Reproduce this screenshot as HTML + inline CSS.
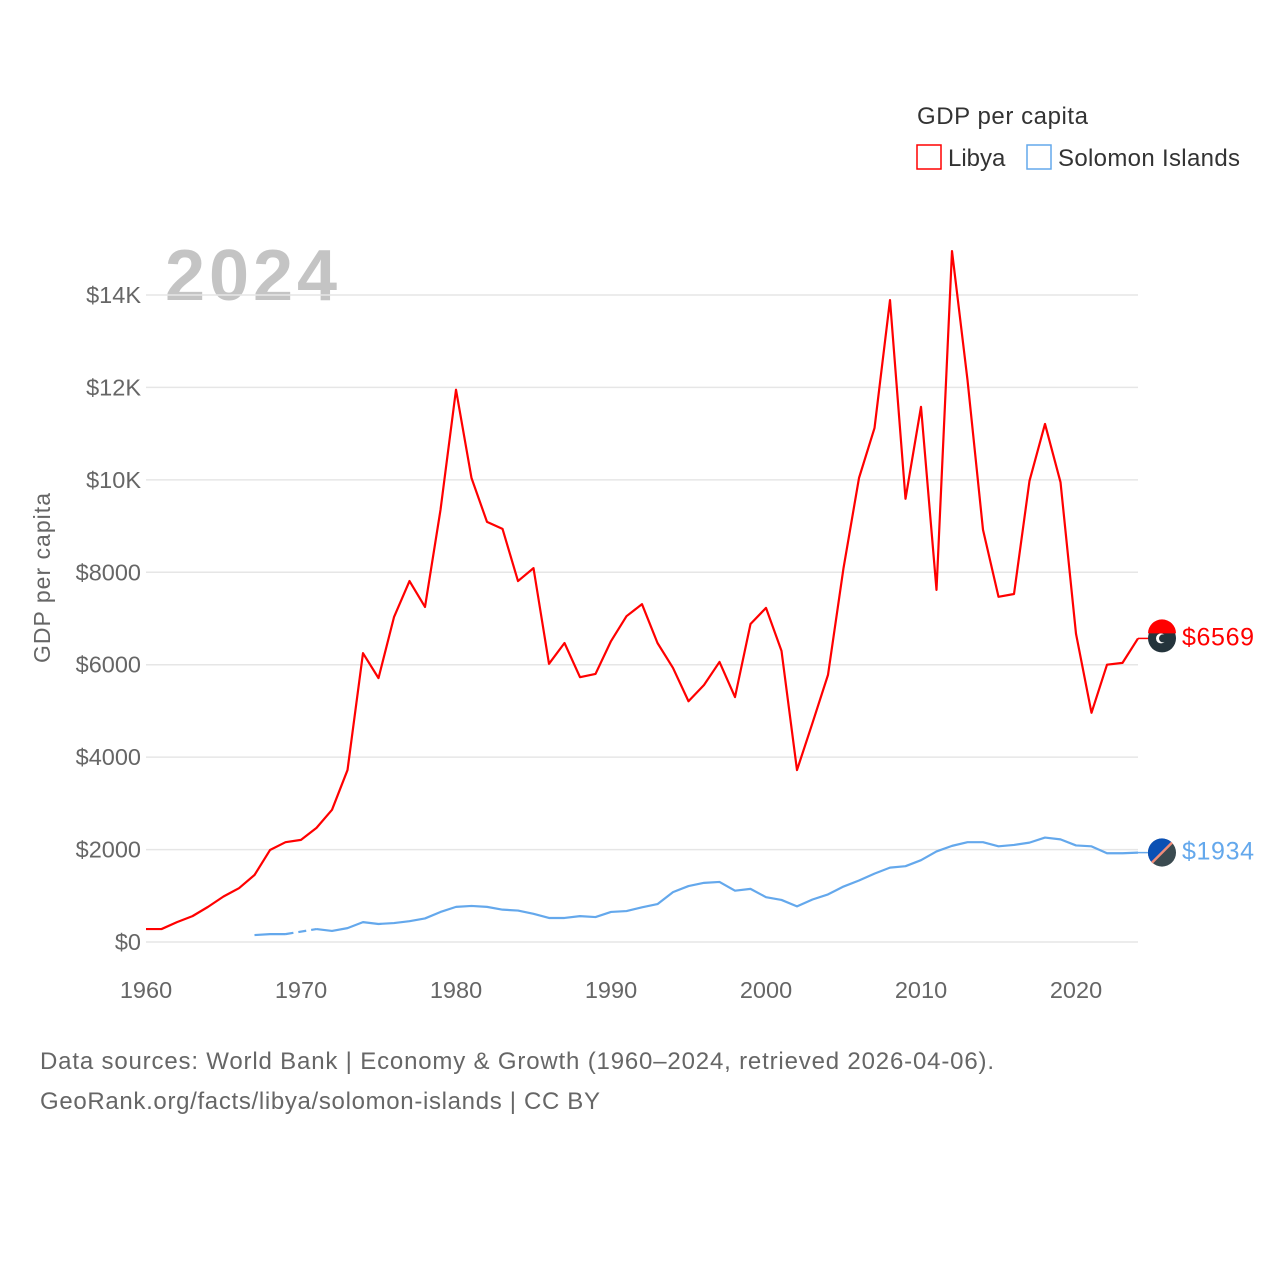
<!DOCTYPE html>
<html><head><meta charset="utf-8"><style>
body{margin:0;background:#fff;font-family:"Liberation Sans",sans-serif}
svg text{font-family:"Liberation Sans",sans-serif}
</style></head><body>
<svg id="c" width="1280" height="1280" viewBox="0 0 1280 1280">
<text x="917" y="124" font-size="24" fill="#333" textLength="171">GDP per capita</text>
<g><rect x="917" y="145" width="24" height="24" fill="none" stroke="#f00" stroke-width="1.5"/><text x="948" y="166" font-size="24" fill="#333">Libya</text></g>
<g><rect x="1027" y="145" width="24" height="24" fill="none" stroke="#64a8ec" stroke-width="1.5"/><text x="1058" y="166" font-size="24" fill="#333" textLength="182">Solomon Islands</text></g>
<text x="165" y="300" font-size="72" font-weight="bold" fill="#c4c4c4" textLength="172">2024</text>
<text transform="translate(50,578) rotate(-90)" text-anchor="middle" font-size="23" fill="#666" textLength="170">GDP per capita</text>
<g id="grid"></g><g id="marks"></g>
<text x="40" y="1069" font-size="24" fill="#666" textLength="954">Data sources: World Bank | Economy &amp; Growth (1960–2024, retrieved 2026-04-06).</text>
<text x="40" y="1109" font-size="24" fill="#666" textLength="560">GeoRank.org/facts/libya/solomon-islands | CC BY</text>
</svg>
<script>
const years=[];for(let y=1960;y<=2024;y++)years.push(y);
const libya=[280,280,430,560,760,985,1165,1450,1990,2160,2210,2470,2860,3720,6250,5710,7030,7810,7250,9350,11950,10040,9090,8940,7810,8090,6020,6470,5730,5800,6510,7050,7310,6470,5930,5210,5560,6060,5300,6880,7230,6300,3720,4740,5780,8090,10040,11120,13890,9590,11580,7620,14950,12160,8920,7470,7530,9980,11210,9950,6670,4960,6000,6040,6569];
const solomon=[null,null,null,null,null,null,null,150,170,170,null,280,240,300,430,390,410,450,510,650,760,780,760,700,680,610,520,520,560,540,650,670,750,820,1080,1210,1280,1300,1110,1150,970,910,770,920,1030,1200,1330,1480,1610,1640,1770,1960,2080,2160,2160,2070,2100,2150,2260,2220,2090,2070,1920,1920,1934];
const yTicks=[0,2000,4000,6000,8000,10000,12000,14000];
const yTickLabels=["$0","$2000","$4000","$6000","$8000","$10K","$12K","$14K"];
const xTicks=[1960,1970,1980,1990,2000,2010,2020];
const X=y=>146+(y-1960)*(1138-146)/64;
const Y=v=>942-v*(942-295)/14000;
const NS="http://www.w3.org/2000/svg";
function mk(t,a,p){const e=document.createElementNS(NS,t);for(const k in a)e.setAttribute(k,a[k]);p.appendChild(e);return e;}
const g=document.getElementById('grid'),m=document.getElementById('marks');
yTicks.forEach((v,i)=>{
 const l=mk('line',{x1:146,x2:1138,y1:Y(v),y2:Y(v),stroke:'#e6e6e6','stroke-width':1.5},g);
 
 
 const t=mk('text',{x:141,y:Y(v)+8,'text-anchor':'end','font-size':23.5,fill:'#666'},g);t.textContent=yTickLabels[i];
 
 
});
xTicks.forEach(v=>{
 const t=mk('text',{x:X(v),y:998,'text-anchor':'middle','font-size':23.5,fill:'#666'},g);t.textContent=v;
 
 
});
function series(vals,color,name){
 let d='',pen=false,prev=null,dash='';
 vals.forEach((v,i)=>{
  if(v==null){pen=false;return;}
  const px=X(years[i]),py=Y(v);
  if(prev&&prev.i<i-1){dash+=`M${prev.x},${prev.y}L${px},${py}`;}
  d+=(pen?'L':'M')+px+','+py;pen=true;prev={i,x:px,y:py};
 });
 const p=mk('path',{d,fill:'none',stroke:color,'stroke-width':2.2,'stroke-linejoin':'round'},m);
 
 
 if(dash){const q=mk('path',{d:dash,fill:'none',stroke:color,'stroke-width':2.2,'stroke-dasharray':'8 5'},m);
  
  }
 return prev;
}
const lp=series(libya,'#f00','libya');
const sp=series(solomon,'#64a8ec','solomon-islands');
function endLabel(p,color,name,val,flag){
 mk('line',{x1:p.x,y1:p.y,x2:1150,y2:p.y,stroke:color,'stroke-width':1.5},m);
 const f=mk('g',{},m);
 
 
 flag(f,1162,p.y);
 const t=mk('text',{x:1182,y:p.y+7,'font-size':25,fill:color,textLength:72},m);t.textContent='$'+val;
 
 
}
endLabel(lp,'#f00','libya',libya[libya.length-1],(f,cx,cy)=>{
 mk('circle',{cx,cy,r:14,fill:'#24343c'},f);
 mk('path',{d:`M${cx-14},${cy-5}A14,14 0 0 1 ${cx+14},${cy-5}Z`,fill:'#f00'},f);
 mk('circle',{cx:cx-1,cy,r:5,fill:'#fff'},f);
 mk('circle',{cx:cx+1,cy,r:4,fill:'#24343c'},f);
});
endLabel(sp,'#64a8ec','solomon-islands',solomon[solomon.length-1],(f,cx,cy)=>{
 mk('circle',{cx,cy,r:14,fill:'#3a4a50'},f);
 mk('path',{d:`M${cx-14},${cy}A14,14 0 0 1 ${cx+10},${cy-10}L${cx-10},${cy+10}A14,14 0 0 1 ${cx-14},${cy}Z`,fill:'#0a50b4'},f);
 mk('line',{x1:cx+10,y1:cy-10,x2:cx-10,y2:cy+10,stroke:'#f08c78','stroke-width':2.5},f);
});
</script>
</body></html>
